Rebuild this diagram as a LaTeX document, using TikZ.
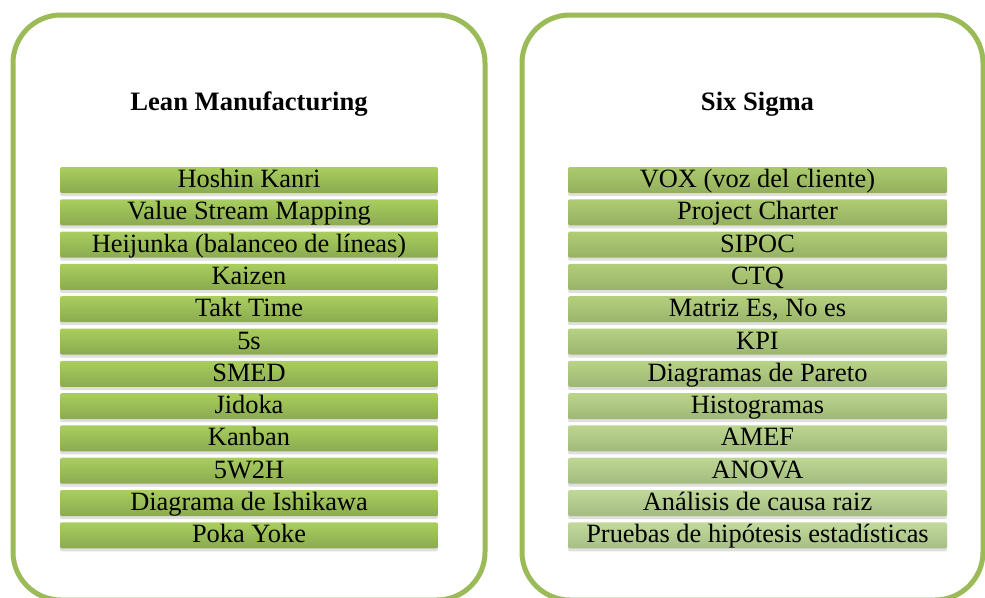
\documentclass[tikz,border=0pt]{standalone}
\usepackage{fontspec}
\setmainfont{Liberation Serif}
\usetikzlibrary{shadows}
\definecolor{frame}{HTML}{9BBB59}
\definecolor{LT}{HTML}{A9CE5E}
\definecolor{LB}{HTML}{8BAA50}
\definecolor{RTa}{HTML}{ACCA6C}
\definecolor{RBa}{HTML}{93AF5E}
\definecolor{RTb}{HTML}{C2DA9C}
\definecolor{RBb}{HTML}{A6BD84}
\tikzset{
  panel/.style={draw=frame, line width=5pt, rounded corners=48pt},
  bar/.style={rectangle, rounded corners=2pt, minimum height=26pt, inner sep=0pt,
    text height=20pt, text depth=5pt,
    font=\fontsize{26.4}{30}\selectfont,
    drop shadow={shadow xshift=0pt, shadow yshift=-3pt, opacity=0.25}},
  barL/.style={bar, minimum width=378pt, top color=LT, bottom color=LB},
  barR/.style={bar, minimum width=379pt},
  heading/.style={font=\fontsize{26.6}{30}\selectfont\bfseries, anchor=base, inner sep=0pt}
}
\begin{document}
\begin{tikzpicture}[x=1pt,y=-1pt]
\useasboundingbox (0,0) rectangle (985,597);
\fill[white] (0,0) rectangle (985,597);
\begin{scope}
\clip (0,0) rectangle (985,597);
\draw[panel] (13,15) rectangle (485,600);
\draw[panel] (522,15) rectangle (983,600);
\end{scope}
\node[heading] (lt) at (249,110) {Lean Manufacturing};
\node[heading] (rt) at (757.5,110) {Six Sigma};
\foreach [count=\i from 0] \t in {Hoshin Kanri, Value Stream Mapping, Heijunka (balanceo de líneas), Kaizen, Takt Time, 5s, SMED, Jidoka, Kanban, 5W2H, Diagrama de Ishikawa, Poka Yoke}{
  \node[barL] (l\i) at (249,{180+32.3*\i}) {\t};
}
\foreach [count=\i from 0] \t in {VOX (voz del cliente), Project Charter, SIPOC, CTQ, {Matriz Es, No es}, KPI, Diagramas de Pareto, Histogramas, AMEF, ANOVA, Análisis de causa raiz, Pruebas de hipótesis estadísticas}{
  \pgfmathtruncatemacro\p{100-\i*100/11}
  \node[barR, top color=RTa!\p!RTb, bottom color=RBa!\p!RBb] (r\i) at (757.5,{180+32.3*\i}) {\t};
}
\end{tikzpicture}
\end{document}
